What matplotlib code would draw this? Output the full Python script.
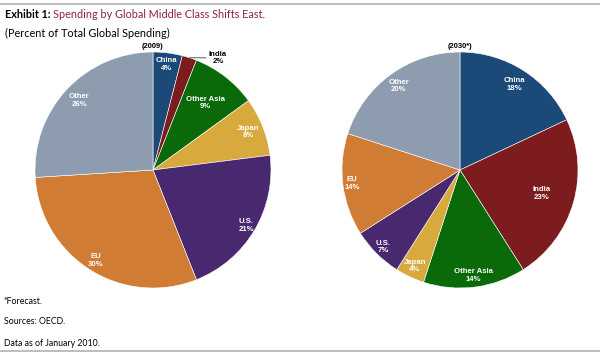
import matplotlib
matplotlib.use("Agg")
import matplotlib.pyplot as plt
import numpy as np
from matplotlib.lines import Line2D

# ── Data ──────────────────────────────────────────────────────────────────────
regions = ['China', 'India', 'Other Asia', 'Japan', 'U.S.', 'EU', 'Other']
share_2009 = [4, 2, 9, 8, 21, 30, 26]
share_2030 = [18, 23, 14, 4, 7, 14, 20]
colors = ['#1B4A78', '#7D1C1E', '#0A6A0A', '#D8A93C', '#48296F', '#D07C35', '#8E9CB0']

W, H = 600, 354
fig = plt.figure(figsize=(6, 3.54), dpi=100)


def px_axes(cx, cy, r):
    return fig.add_axes([(cx - r) / W, (H - cy - r) / H, 2 * r / W, 2 * r / H])


def draw_pie(ax, values, year, label_r, skip=()):
    ax.pie(values, colors=colors, startangle=90, counterclock=False, radius=1,
           wedgeprops=dict(edgecolor='white', linewidth=0.4))
    ax.set_xlim(-1, 1)
    ax.set_ylim(-1, 1)
    ax.set_aspect('equal')
    ax.axis('off')
    cum = np.cumsum([0] + values)
    for i, name in enumerate(regions):
        if name in skip:
            continue
        mid = np.deg2rad(90 - (cum[i] + values[i] / 2) * 3.6)
        rr = label_r[i]
        ax.text(rr * np.cos(mid), rr * np.sin(mid), f'{name}\n{values[i]}%',
                ha='center', va='center', color='white', fontsize=5.6,
                fontweight='bold', family='Liberation Sans', linespacing=1.1)
    ax.text(0, 1.02, year, ha='center', va='bottom', fontsize=5.4,
            fontweight='bold', family='Liberation Sans')
    return cum


ax1 = px_axes(153, 170, 118)
cum = draw_pie(ax1, share_2009, '(2009)', [0.9, 0, 0.72, 0.87, 0.92, 0.91, 0.86],
               skip=('India',))
# India 2009 label outside with leader line
mid = np.deg2rad(90 - (cum[1] + share_2009[1] / 2) * 3.6)
ax1.annotate(f'India\n{share_2009[1]}%', xy=(np.cos(mid), np.sin(mid)),
             xytext=(0.55, 0.95), ha='center', va='center', fontsize=5.6,
             fontweight='bold', family='Liberation Sans', linespacing=1.1,
             arrowprops=dict(arrowstyle='-', color='#404040', lw=0.6,
                             shrinkA=0, shrinkB=0))

ax2 = px_axes(460, 170, 118)
draw_pie(ax2, share_2030, '(2030*)', [0.86, 0.72, 0.9, 0.9, 0.92, 0.92, 0.88])

# ── Titles and notes ──────────────────────────────────────────────────────────
t1 = fig.text(5 / W, 1 - 14 / H, 'Exhibit 1: ', fontsize=7.8, fontweight='bold',
              family='Lato', va='center')
fig.add_artist(plt.Annotation('Spending by Global Middle Class Shifts East.',
                              xy=(1, 0.5), xycoords=t1, va='center',
                              fontsize=7.8, family='Lato', color='#8E2050'))
fig.text(5 / W, 1 - 33 / H, '(Percent of Total Global Spending)', fontsize=7.8,
         family='Lato', va='center')

for y, s in [(301, '*Forecast.'), (322, 'Sources: OECD.'), (344, 'Data as of January 2010.')]:
    fig.text(4 / W, 1 - y / H, s, fontsize=6.3, family='Lato', va='center')

for y in (4, 351):
    fig.add_artist(Line2D([0, 1], [1 - y / H] * 2, color='#B8B8B8', lw=1.3,
                          transform=fig.transFigure))

fig.savefig('out.png', dpi=100)
